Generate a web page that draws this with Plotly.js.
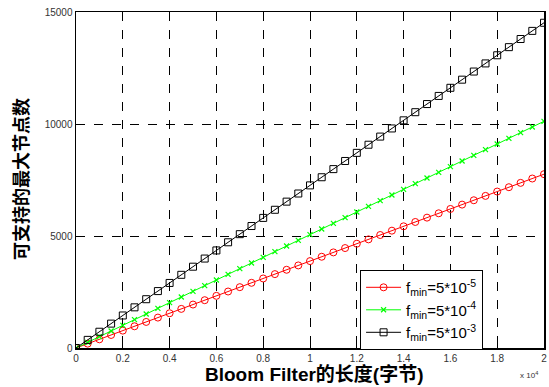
<!DOCTYPE html>
<html><head><meta charset="utf-8">
<script src="https://cdn.plot.ly/plotly-3.0.1.min.js"></script>
<style>body{margin:0;background:#fff}#c{width:549px;height:387px}</style>
</head><body><div id="c"></div>
<script>
var xBytes = [0,500,1000,1500,2000,2500,3000,3500,4000,4500,5000,5500,6000,6500,7000,7500,8000,8500,9000,9500,10000,10500,11000,11500,12000,12500,13000,13500,14000,14500,15000,15500,16000,16500,17000,17500,18000,18500,19000,19500,20000];
var nodesF5e5 = [0,194,388,582,776,970,1164,1358,1552,1746,1940,2134,2328,2522,2716,2910,3104,3298,3492,3686,3880,4074,4268,4462,4656,4850,5044,5238,5432,5626,5820,6014,6208,6402,6596,6790,6984,7178,7372,7566,7760];
var nodesF5e4 = [0,253,506,759,1012,1265,1518,1771,2024,2277,2530,2783,3036,3289,3542,3795,4048,4301,4554,4807,5060,5313,5566,5819,6072,6325,6578,6831,7084,7337,7590,7843,8096,8349,8602,8855,9108,9361,9614,9867,10120];
var nodesF5e3 = [0,363,726,1089,1452,1815,2178,2541,2904,3267,3630,3993,4356,4719,5082,5445,5808,6171,6534,6897,7260,7623,7986,8349,8712,9075,9438,9801,10164,10527,10890,11253,11616,11979,12342,12705,13068,13431,13794,14157,14520];
var seriesNames = ['f<sub>min</sub>=5*10<sup>-5</sup>','f<sub>min</sub>=5*10<sup>-4</sup>','f<sub>min</sub>=5*10<sup>-3</sup>'];
var xTickVals = [0,2000,4000,6000,8000,10000,12000,14000,16000,18000,20000];
var xTickText = ['0','0.2','0.4','0.6','0.8','1','1.2','1.4','1.6','1.8','2'];
var yTickVals = [0,5000,10000,15000];
var yTickText = ['0','5000','10000','15000'];
var xTitle = 'Bloom Filter的长度(字节)';
var yTitle = '可支持的最大节点数';

var F = 'Liberation Sans, Arial, Noto Sans CJK SC, sans-serif';
var traces = [
 {x:xBytes,y:nodesF5e5,name:seriesNames[0],mode:'lines+markers',line:{color:'#ff0000',width:1},marker:{symbol:'circle-open',size:7,color:'#ff0000',line:{width:1}}},
 {x:xBytes,y:nodesF5e4,name:seriesNames[1],mode:'lines+markers',line:{color:'#00ff00',width:1},marker:{symbol:'x-thin-open',size:5,color:'#00ff00',line:{width:1.2,color:'#00ff00'}}},
 {x:xBytes,y:nodesF5e3,name:seriesNames[2],mode:'lines+markers',line:{color:'#000000',width:1},marker:{symbol:'square-open',size:7,color:'#000000',line:{width:1}}}
];
var axisCommon = {showline:true,linecolor:'#000',linewidth:1.5,mirror:true,ticks:'inside',ticklen:5,tickcolor:'#000',
  showgrid:true,gridcolor:'#000',gridwidth:1,griddash:'dash',zeroline:false,tickfont:{family:F,size:10,color:'#333'}};
var layout = {
 width:549,height:387,margin:{l:76,r:5,t:12,b:39},paper_bgcolor:'#fff',plot_bgcolor:'#fff',
 showlegend:true,
 xaxis:Object.assign({},axisCommon,{range:[0,20000],tickvals:xTickVals,ticktext:xTickText}),
 yaxis:Object.assign({},axisCommon,{range:[0,15000],tickvals:yTickVals,ticktext:yTickText}),
 legend:{x:0.607,y:0.232,xanchor:'left',yanchor:'top',bgcolor:'#fff',bordercolor:'#000',borderwidth:1,
   font:{family:F,size:15,color:'#000'},tracegroupgap:0,itemwidth:35},
 annotations:[
  {xref:'paper',yref:'paper',x:0.509,y:0,yshift:-39,xanchor:'center',yanchor:'bottom',showarrow:false,text:'<b>'+xTitle+'</b>',font:{family:F,size:19,color:'#000'}},
  {xref:'paper',yref:'paper',x:0,xshift:-54,y:0.503,xanchor:'center',yanchor:'middle',textangle:-90,showarrow:false,text:'<b>'+yTitle+'</b>',font:{family:F,size:18,color:'#000'}},
  {xref:'paper',yref:'paper',x:1,xshift:-4,y:0,yshift:-27,xanchor:'right',yanchor:'middle',showarrow:false,text:'x 10<sup>4</sup>',font:{family:F,size:8,color:'#333'}}
 ]
};
Plotly.newPlot('c',traces,layout,{displayModeBar:false,staticPlot:true});
</script></body></html>
